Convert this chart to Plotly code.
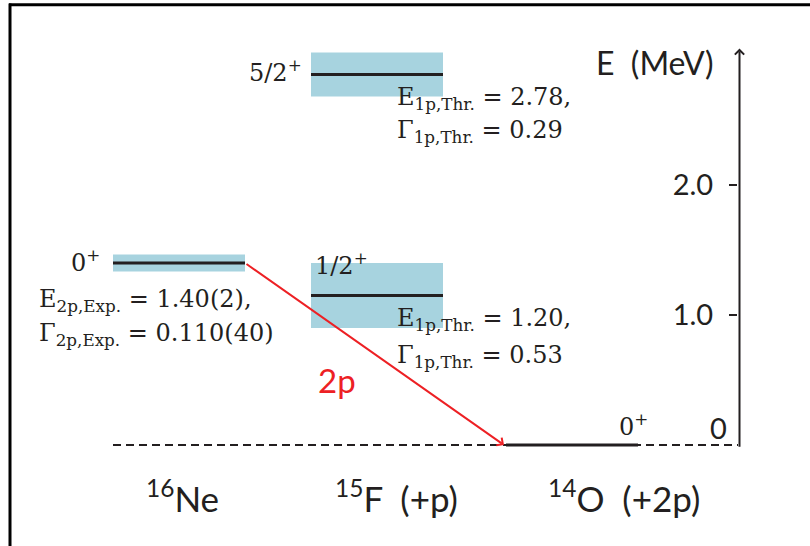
import plotly.graph_objects as go

# ---------------- data ----------------
NB = "\u00a0"
nuclei = ["<sup>16</sup>Ne", "<sup>15</sup>F" + NB + NB + "(+p)", "<sup>14</sup>O" + NB + NB + "(+2p)"]
col_x = [179, 377, 572]                 # column centres (diagram units)
level_col = [0, 1, 1, 2]                # which column each level sits in
level_E = [1.40, 1.15, 2.85, 0.0]       # drawn level energies (MeV)
level_W = [0.13, 0.50, 0.34, 0.0]       # drawn band widths (MeV)
level_J = ["0<sup>+</sup>", "1/2<sup>+</sup>", "5/2<sup>+</sup>", "0<sup>+</sup>"]
E_text = ["E<sub>2p,Exp.</sub> = 1.40(2),", "E<sub>1p,Thr.</sub> = 1.20,",
          "E<sub>1p,Thr.</sub> = 2.78,"]
G_text = ["Γ<sub>2p,Exp.</sub> = 0.110(40)", "Γ<sub>1p,Thr.</sub> = 0.53",
          "Γ<sub>1p,Thr.</sub> = 0.29"]
tick_vals = [1.0, 2.0]
tick_text = ["1.0", "2.0"]
decay_label = "2p"
axis_title = "E" + NB + NB + "(MeV)"

# ---------------- style ----------------
HW = 66
INK = "#231F20"
BAND = "#A7D3DF"
RED = "#ED2024"
SERIF = "DejaVu Serif"
SANS = "Lato"
Y0, SCALE = 445.0, 130.0
def e(py):  # pixel row -> energy (for text placement only)
    return (Y0 - py) / SCALE

fig = go.Figure()
fig.add_trace(go.Scatter(x=[0], y=[0], mode="markers", marker=dict(opacity=0),
                         showlegend=False, hoverinfo="skip"))

shapes = []
# bands
for c, E, W in zip(level_col, level_E, level_W):
    if W > 0:
        shapes.append(dict(type="rect", xref="x", yref="y",
                           x0=col_x[c] - HW, x1=col_x[c] + HW,
                           y0=E - W / 2, y1=E + W / 2,
                           fillcolor=BAND, line=dict(width=0), layer="below"))
# zero (threshold) dashed line
shapes.append(dict(type="line", xref="x", yref="y", x0=col_x[0] - HW, x1=738,
                   y0=0, y1=0, line=dict(color=INK, width=1.8, dash="8px,5px")))
# level lines
for c, E in zip(level_col, level_E):
    shapes.append(dict(type="line", xref="x", yref="y",
                       x0=col_x[c] - HW, x1=col_x[c] + HW, y0=E, y1=E,
                       line=dict(color=INK, width=3)))
# frame
shapes.append(dict(type="line", xref="paper", yref="paper", x0=9 / 810, x1=1,
                   y0=1 - 4.7 / 546, y1=1 - 4.7 / 546, line=dict(color="black", width=3)))
shapes.append(dict(type="line", xref="paper", yref="paper", x0=10 / 810, x1=10 / 810,
                   y0=0, y1=1 - 3.5 / 546, line=dict(color="black", width=3)))

ann = []
# energy axis with arrow
ann.append(dict(x=739.5, y=3.05, ax=739.5, ay=-0.025, xref="x", yref="y",
                axref="x", ayref="y", text="", showarrow=True, arrowhead=4,
                arrowsize=0.9, arrowwidth=2, arrowcolor=INK))
# 2p decay arrow
ann.append(dict(x=col_x[2] - HW - 2, y=level_E[3], ax=col_x[0] + HW, ay=level_E[0],
                xref="x", yref="y", axref="x", ayref="y", text="", showarrow=True,
                arrowhead=4, arrowsize=0.9, arrowwidth=2, arrowcolor=RED))

def txt(x, py, s, size, font=SERIF, color=INK, xanchor="left"):
    ann.append(dict(x=x, y=e(py), xref="x", yref="y", text=s, showarrow=False,
                    xanchor=xanchor, yanchor="middle",
                    font=dict(family=font, size=size, color=color)))

# spin-parity labels
txt(102, 261, level_J[0], 24, xanchor="right")
txt(313, 264, level_J[1], 24)
txt(304, 71, level_J[2], 24, xanchor="right")
txt(617, 425, level_J[3], 24)
# E / Gamma texts
txt(37, 300, E_text[0], 24)
txt(37, 334, G_text[0], 24)
txt(395, 319, E_text[1], 24)
txt(395, 356, G_text[1], 24)
txt(395, 98, E_text[2], 24)
txt(395, 131, G_text[2], 24)
# sans texts
txt(594, 62, axis_title, 32, font=SANS)
txt(708, 427, "0", 29, font=SANS)
txt(316, 380, decay_label, 33, font=SANS, color=RED)
for cx, name in zip([182.5, 396, 623.5], nuclei):
    txt(cx, 496, name, 35, font=SANS, xanchor="center")

fig.update_layout(
    width=810, height=546, margin=dict(l=0, r=0, t=0, b=0),
    paper_bgcolor="white", plot_bgcolor="white", showlegend=False,
    shapes=shapes, annotations=ann,
    xaxis=dict(range=[0, 810], visible=False, fixedrange=True),
    yaxis=dict(range=[e(546), e(0)], anchor="free", position=737 / 810, side="left",
               showgrid=False, zeroline=False, showline=False,
               ticks="outside", ticklen=8, tickwidth=2, tickcolor=INK,
               tickvals=tick_vals, ticktext=tick_text, ticklabelstandoff=10,
               tickfont=dict(family=SANS, size=29, color=INK), fixedrange=True),
)
fig.write_html("out.html")
